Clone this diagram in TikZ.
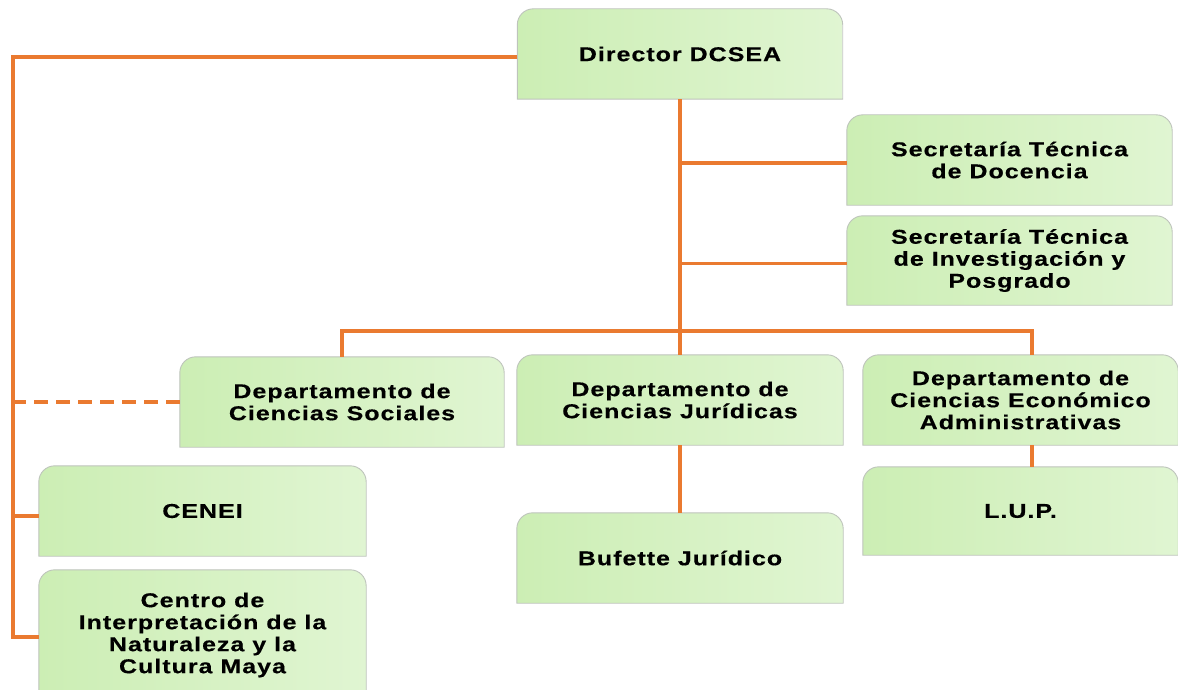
\documentclass[tikz,border=0pt]{standalone}
\usepackage{fontspec}
\newfontfamily\orgfont{Liberation Sans}[FakeStretch=1.25,LetterSpace=5,BoldFeatures={FakeBold=0.4}]
\usetikzlibrary{calc}
\pgfdeclarelayer{background}
\pgfsetlayers{background,main}
\definecolor{gL}{RGB}{204,238,180}
\definecolor{gR}{RGB}{224,245,210}
\definecolor{gBorder}{RGB}{190,196,188}
\definecolor{orangeL}{RGB}{234,122,48}
\tikzset{
  orgbox/.style={minimum width=325pt, minimum height=90pt, inner sep=0pt,
    align=center, text=black,
    font=\orgfont\bfseries\fontsize{20}{22}\selectfont},
  link/.style={draw=orangeL, line width=3.6pt},
  dashlink/.style={link, dash pattern=on 14pt off 8pt},
  boxshape/.style={left color=gL, right color=gR, draw=gBorder, line width=0.9pt},
}
\newcommand\greenbox[1]{%
  \begin{pgfonlayer}{background}
  \path[boxshape] (#1.south west) -- ([yshift=-16pt]#1.north west)
    arc[start angle=180, end angle=90, radius=16pt]
    -- ([xshift=-16pt]#1.north east)
    arc[start angle=90, end angle=0, radius=16pt]
    -- (#1.south east) -- cycle;
  \end{pgfonlayer}}
\begin{document}
\begin{tikzpicture}[x=1pt,y=-1pt]
\useasboundingbox (0,0) rectangle (1178,690);
\clip (0,0) rectangle (1178,690);
% nodes
\node[orgbox] (dir)    at (680,54)   {Director DCSEA};
\node[orgbox] (sdoc)   at (1009.5,160) {Secretaría Técnica\\de Docencia};
\node[orgbox, minimum height=89pt] (sinv) at (1009.5,260.5) {Secretaría Técnica\\de Investigación y\\Posgrado};
\node[orgbox, minimum width=324pt] (soc) at (342,402) {Departamento de\\Ciencias Sociales};
\node[orgbox, minimum width=326pt] (jur) at (680,400) {Departamento de\\Ciencias Jurídicas};
\node[orgbox, minimum width=315pt] (eco) at (1020.5,400) {Departamento de\\Ciencias Económico\\Administrativas};
\node[orgbox, minimum width=315pt, minimum height=88pt] (lup) at (1020.5,511) {L.U.P.};
\node[orgbox, minimum width=327pt] (cenei) at (202.5,511) {CENEI};
\node[orgbox, minimum width=327pt, minimum height=130pt] (centro) at (202.5,635) {Centro de\\Interpretación de la\\Naturaleza y la\\Cultura Maya};
\node[orgbox, minimum width=326pt] (buf) at (680,558) {Bufette Jurídico};
\foreach \n in {dir,sdoc,sinv,soc,jur,eco,lup,cenei,centro,buf}{\greenbox{\n}}
% coordinates
\coordinate (lbot) at (13,637);
\coordinate (bar) at (680,331);
% left spine
\draw[link] ([yshift=-3pt]dir.west) -| (lbot) -- (lbot -| centro.west);
\draw[dashlink] (soc.west) -- (soc.west -| lbot);
\draw[link] ([yshift=-5pt]cenei.west) -- ([yshift=-5pt]cenei.west -| lbot);
% center spine
\draw[link] (dir.south) -- (jur.north);
\draw[link] ([yshift=-3pt]sdoc.west) -- ([yshift=-3pt]sdoc.west -| jur.north);
\draw[link] ([yshift=-3pt]sinv.west) -- ([yshift=-3pt]sinv.west -| jur.north);
\draw[link] (soc.north) |- (bar) -| ([xshift=11.5pt]eco.north);
\draw[link] (jur.south) -- (buf.north);
\draw[link] ([xshift=11.5pt]eco.south) -- ([xshift=11.5pt]lup.north);
\end{tikzpicture}
\end{document}
